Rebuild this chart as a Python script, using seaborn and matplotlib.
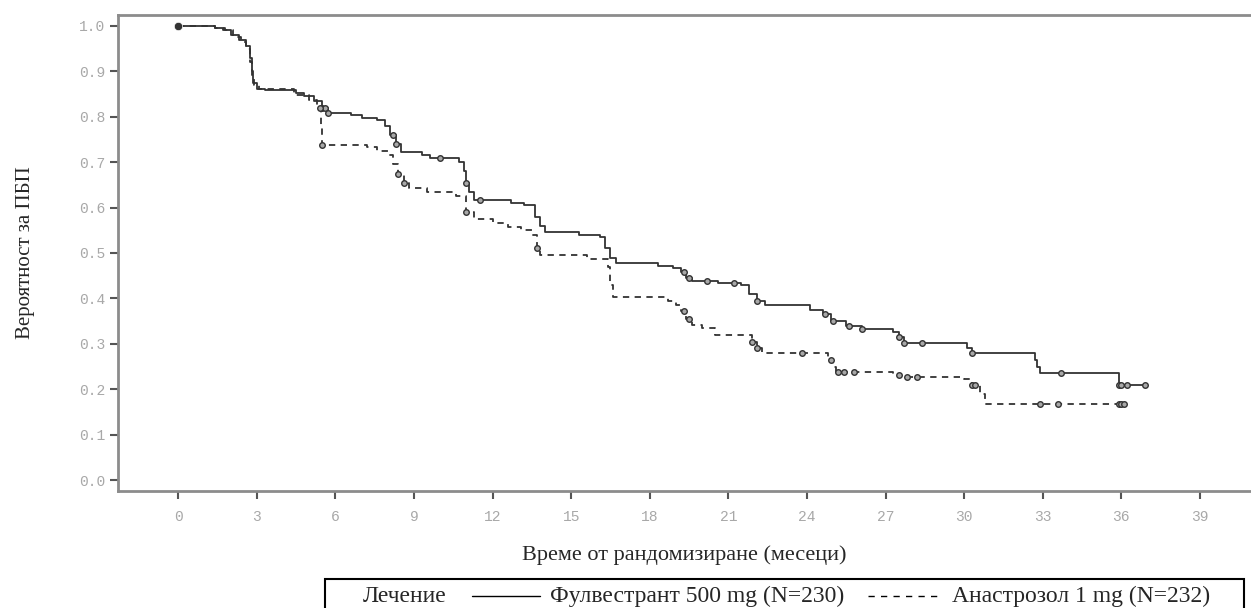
import matplotlib
matplotlib.use("Agg")
import matplotlib.pyplot as plt
from matplotlib.lines import Line2D
from matplotlib.patches import Rectangle
import numpy as np
import seaborn as sns
import pandas as pd

# Kaplan-Meier step points (time in months, survival after the step)
fulv_t = [0, 1.4, 1.7, 2.0, 2.3, 2.6, 2.75, 2.8, 2.85, 3.0, 3.3, 4.5, 4.8, 5.2, 5.5, 5.7,
          6.6, 7.0, 7.6, 7.9, 8.1, 8.3, 8.5, 9.3, 9.6, 10.7, 10.9, 11.0, 11.1, 11.3,
          12.7, 13.2, 13.6, 13.8, 14.0, 15.3, 16.1, 16.3, 16.5, 16.7, 18.3, 18.9, 19.2,
          19.4, 19.6, 20.6, 21.5, 21.8, 22.1, 22.4, 24.1, 24.6, 24.9, 25.5, 26.1, 27.3,
          27.5, 27.7, 30.1, 30.3, 32.7, 32.8, 32.9, 35.9, 36.9]
fulv_s = [1.0, 0.995, 0.99, 0.98, 0.97, 0.955, 0.93, 0.9, 0.875, 0.862, 0.858, 0.853, 0.845,
          0.835, 0.82, 0.808, 0.803, 0.797, 0.792, 0.78, 0.76, 0.74, 0.722, 0.715, 0.709,
          0.70, 0.68, 0.655, 0.635, 0.617, 0.61, 0.605, 0.58, 0.56, 0.546, 0.54, 0.535,
          0.51, 0.49, 0.478, 0.472, 0.466, 0.458, 0.445, 0.438, 0.434, 0.43, 0.41, 0.395,
          0.385, 0.375, 0.365, 0.35, 0.34, 0.333, 0.325, 0.315, 0.302, 0.29, 0.28, 0.265,
          0.25, 0.236, 0.209, 0.209]

anas_t = [0, 1.4, 1.8, 2.1, 2.4, 2.6, 2.75, 2.8, 2.9, 3.1, 4.4, 5.0, 5.3, 5.45, 5.5, 7.2,
          7.6, 8.0, 8.2, 8.4, 8.6, 8.8, 9.5, 10.6, 11.0, 11.3, 12.0, 12.6, 13.1, 13.5, 13.7,
          13.8, 15.6, 16.4, 16.5, 16.6, 18.7, 19.0, 19.2, 19.4, 19.6, 20.0, 20.5, 21.9,
          22.1, 22.3, 24.8, 25.0, 25.1, 27.3, 27.6, 30.0, 30.3, 30.6, 30.8, 36.1]
anas_s = [1.0, 0.995, 0.99, 0.975, 0.965, 0.95, 0.92, 0.89, 0.87, 0.86, 0.848, 0.837, 0.82,
          0.78, 0.738, 0.733, 0.725, 0.715, 0.695, 0.675, 0.655, 0.643, 0.635, 0.625, 0.59,
          0.575, 0.565, 0.557, 0.55, 0.54, 0.51, 0.495, 0.487, 0.47, 0.43, 0.403, 0.395,
          0.385, 0.372, 0.355, 0.341, 0.335, 0.319, 0.305, 0.29, 0.28, 0.265, 0.25, 0.238,
          0.232, 0.227, 0.222, 0.21, 0.19, 0.167, 0.167]

# censoring times
fulv_cens = [5.5, 5.6, 5.7, 8.2, 8.3, 10.0, 11.0, 11.5, 19.3, 19.5, 20.2, 21.2, 22.1, 24.7,
             25.0, 25.6, 26.1, 27.5, 27.7, 28.4, 30.3, 33.7, 35.9, 36.0, 36.2, 36.9]
anas_cens = [5.4, 5.5, 8.4, 8.6, 11.0, 13.7, 19.3, 19.5, 21.9, 22.1, 23.8, 24.9, 25.2, 25.4,
             25.8, 27.5, 27.8, 28.2, 30.3, 30.4, 32.9, 33.6, 35.9, 36.0, 36.1]

x_ticks = list(range(0, 40, 3))
y_ticks = [round(v * 0.1, 1) for v in range(11)]

legend_title = "Лечение"
lab_fulv = "Фулвестрант 500 mg (N=230)"
lab_anas = "Анастрозол 1 mg (N=232)"


def step_value(ts, ss, t):
    i = np.searchsorted(ts, t, side="right") - 1
    return ss[i]


sns.set_style("white")
plt.rcParams["font.family"] = ["Liberation Serif", "DejaVu Serif"]

fig = plt.figure(figsize=(12.51, 6.08), dpi=100)
ax = fig.add_axes([118 / 1251, 1 - 491 / 608, 1 - 118 / 1251, (491 - 15) / 608])

line_col = "#333333"
sns.lineplot(x=fulv_t, y=fulv_s, ax=ax, drawstyle="steps-post", estimator=None, sort=False,
             color=line_col, linewidth=1.3)
sns.lineplot(x=anas_t, y=anas_s, ax=ax, drawstyle="steps-post", estimator=None, sort=False,
             color=line_col, linewidth=1.3, linestyle=(0, (3.5, 3)))

fc_y = [step_value(fulv_t, fulv_s, t) for t in fulv_cens]
ac_y = [step_value(anas_t, anas_s, t) for t in anas_cens]
sns.scatterplot(x=fulv_cens, y=fc_y, ax=ax, marker="o", s=16, facecolor="#a8a8a8",
                edgecolor="#333333", linewidth=1.0, zorder=3)
sns.scatterplot(x=anas_cens, y=ac_y, ax=ax, marker="o", s=16, facecolor="#a8a8a8",
                edgecolor="#333333", linewidth=1.0, zorder=3)
sns.scatterplot(x=[fulv_t[0]], y=[fulv_s[0]], ax=ax, marker="o", s=36, color="#333333",
                zorder=4)

ax.set_xlim(-2.3, 40.95)
ax.set_ylim(-0.024, 1.024)
ax.set_xticks(x_ticks)
ax.set_yticks(y_ticks)
ax.set_xticklabels([str(v) for v in x_ticks])
ax.set_yticklabels([f"{v:.1f}" for v in y_ticks])
for lab in ax.get_xticklabels() + ax.get_yticklabels():
    lab.set_family("Liberation Mono")
    lab.set_fontsize(10.5)
    lab.set_color("#a8a8a8")
ax.tick_params(axis="both", direction="out", length=6, width=1.5, color="#555555",
               bottom=True, left=True)
ax.tick_params(axis="y", pad=3)
ax.tick_params(axis="x", pad=8)
for sp in ax.spines.values():
    sp.set_color("#8c8c8c")
    sp.set_linewidth(2)
ax.spines["right"].set_visible(False)

ax.set_xlabel("Време от рандомизиране (месеци)", fontsize=16)
ax.xaxis.set_label_coords(0.5, -0.115)
ax.set_ylabel("Вероятност за ПБП", fontsize=15)
ax.yaxis.set_label_coords(-0.073, 0.5)

# legend box at the bottom
W, H = 1251, 608
fig.patches.append(Rectangle((325 / W, -0.1), (1244 - 325) / W, 0.1 + 1 - 579 / H,
                             transform=fig.transFigure, fill=False, edgecolor="black",
                             linewidth=1.5, clip_on=False))
ly = 1 - 596 / H
fig.text(363 / W, ly, legend_title, fontsize=17, va="center", ha="left")
fig.lines.append(Line2D([472 / W, 540 / W], [ly, ly], transform=fig.transFigure,
                        color="black", linewidth=1.0))
fig.text(550 / W, ly, lab_fulv, fontsize=17, va="center", ha="left")
fig.lines.append(Line2D([868 / W, 943 / W], [ly, ly], transform=fig.transFigure,
                        color="black", linewidth=1.0, linestyle=(0, (4.5, 4.5))))
fig.text(952 / W, ly, lab_anas, fontsize=17, va="center", ha="left")

fig.savefig("out.png", dpi=100)
